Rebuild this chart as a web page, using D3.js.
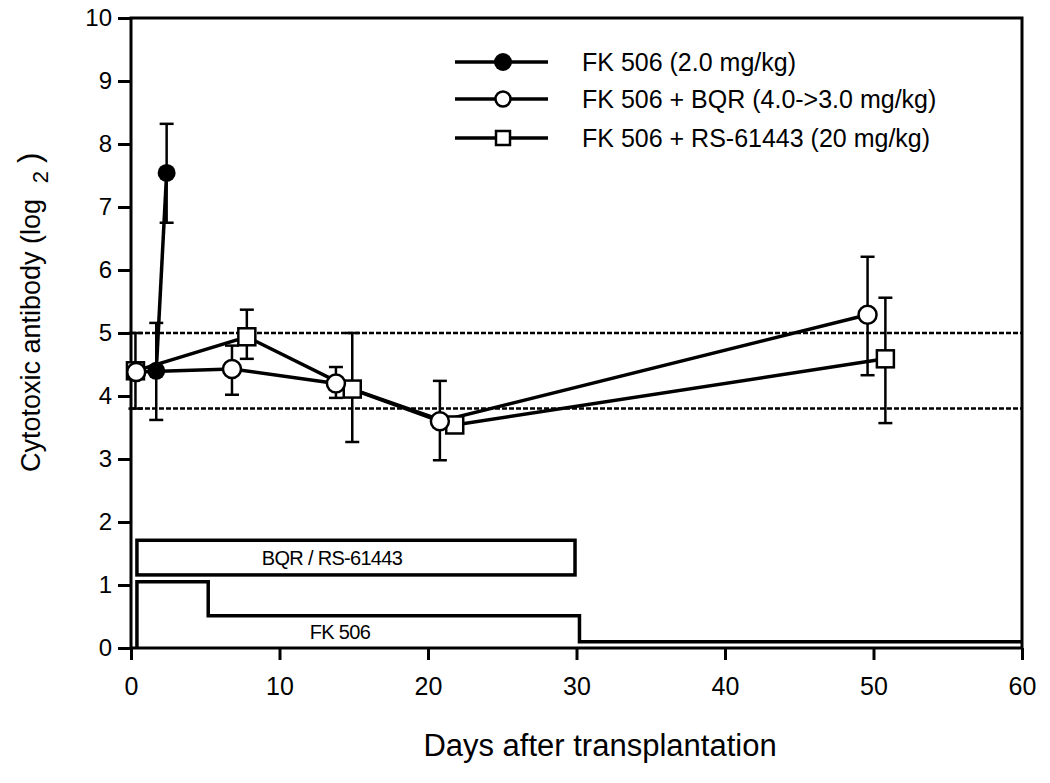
<!DOCTYPE html>
<html>
<head>
<meta charset="utf-8">
<script src="https://cdn.jsdelivr.net/npm/d3@7"></script>
<style>
  body { margin: 0; background: #fff; }
  svg { font-family: "Liberation Sans", Arial, sans-serif; }
  .tick text { fill: #000; }
</style>
</head>
<body>
<div id="chart"></div>
<script>
// series (day, mean, lower, upper)
const fkDays = [1.7, 2.4];
const fkValues = [4.4, 7.54];
const fkLow = [3.62, 6.75];
const fkHigh = [5.16, 8.32];

const bqrDays = [0.35, 6.8, 13.8, 20.8, 49.6];
const bqrValues = [4.38, 4.43, 4.2, 3.6, 5.29];
const bqrLow = [4.38, 4.02, 3.97, 2.98, 4.33];
const bqrHigh = [4.38, 4.8, 4.46, 4.24, 6.21];

const rsDays = [0.3, 7.8, 14.9, 21.8, 50.8];
const rsValues = [4.4, 4.94, 4.11, 3.54, 4.59];
const rsLow = [3.8, 4.59, 3.27, 3.54, 3.57];
const rsHigh = [5.0, 5.37, 5.0, 3.54, 5.56];

const refLevels = [5.0, 3.8];

// treatment schedule drawn under the curves
const comboStart = 0.4, comboEnd = 29.9, comboLow = 1.16, comboHigh = 1.71;
const fkStepDays = [0.4, 0.4, 5.2, 30.2, 60];
const fkStepLevels = [0, 1.05, 0.51, 0.1, 0.1];

const xTicks = [0, 10, 20, 30, 40, 50, 60];
const yTicks = d3.range(0, 11);

const legendLabels = ["FK 506 (2.0 mg/kg)", "FK 506 + BQR (4.0->3.0 mg/kg)", "FK 506 + RS-61443 (20 mg/kg)"];

const width = 1050, height = 783;

const x = d3.scaleLinear().domain([0, 60]).range([131, 1022]);
const y = d3.scaleLinear().domain([0, 10]).range([648, 18]);

const svg = d3.select("#chart").append("svg")
    .attr("width", width)
    .attr("height", height);

svg.append("rect").attr("width", width).attr("height", height).attr("fill", "#fff");

const zip = (days, vals, lo, hi) => days.map((d, i) => ({day: d, v: vals[i], lo: lo[i], hi: hi[i]}));
const fk = zip(fkDays, fkValues, fkLow, fkHigh);
const bqr = zip(bqrDays, bqrValues, bqrLow, bqrHigh);
const rs = zip(rsDays, rsValues, rsLow, rsHigh);

// axes
const yAxis = svg.append("g")
    .attr("transform", `translate(${x(0)},0)`)
    .call(d3.axisLeft(y).tickValues(yTicks).tickSize(13).tickPadding(6))
    .call(g => g.select(".domain").remove());
yAxis.selectAll(".tick line").attr("stroke", "#000").attr("stroke-width", 3);
yAxis.selectAll(".tick text").attr("font-size", 24);

const xAxis = svg.append("g")
    .attr("transform", `translate(0,${y(0)})`)
    .call(d3.axisBottom(x).tickValues(xTicks).tickSize(12).tickPadding(17))
    .call(g => g.select(".domain").remove());
xAxis.selectAll(".tick line").attr("stroke", "#000").attr("stroke-width", 3);
xAxis.selectAll(".tick text").attr("font-size", 25);

svg.append("rect")
    .attr("x", x(0))
    .attr("y", y(10))
    .attr("width", x(60) - x(0))
    .attr("height", y(0) - y(10))
    .attr("fill", "none")
    .attr("stroke", "#000")
    .attr("stroke-width", 3);

svg.append("text")
    .attr("x", 600)
    .attr("y", 756)
    .attr("text-anchor", "middle")
    .attr("font-size", 31)
    .text("Days after transplantation");

const yTitle = svg.append("text")
    .attr("transform", "translate(40,472) rotate(-90)")
    .attr("font-size", 27)
    .attr("text-anchor", "start");
yTitle.append("tspan").text("Cytotoxic antibody (log ");
yTitle.append("tspan").attr("dx", 8).attr("dy", 8).attr("font-size", 22).text("2");
yTitle.append("tspan").attr("dx", 8).attr("dy", -8).attr("font-size", 31).text(")");

// reference band
svg.append("g")
    .selectAll("line")
    .data(refLevels)
    .join("line")
    .attr("x1", x(0))
    .attr("x2", x(60))
    .attr("y1", d => y(d))
    .attr("y2", d => y(d))
    .attr("stroke", "#000")
    .attr("stroke-width", 2.5)
    .attr("stroke-dasharray", "5,2");

// treatment bars
svg.append("rect")
    .attr("x", x(comboStart))
    .attr("y", y(comboHigh))
    .attr("width", x(comboEnd) - x(comboStart))
    .attr("height", y(comboLow) - y(comboHigh))
    .attr("fill", "none")
    .attr("stroke", "#000")
    .attr("stroke-width", 3.5);

svg.append("text")
    .attr("x", (x(comboStart) + x(comboEnd)) / 2 - 24)
    .attr("y", (y(comboLow) + y(comboHigh)) / 2)
    .attr("dy", "0.35em")
    .attr("text-anchor", "middle")
    .attr("font-size", 20)
    .attr("letter-spacing", -0.7)
    .text("BQR / RS-61443");

const stepLine = d3.line()
    .x(d => x(d[0]))
    .y(d => y(d[1]))
    .curve(d3.curveStepAfter);

svg.append("path")
    .attr("d", stepLine(fkStepDays.map((d, i) => [d, fkStepLevels[i]])))
    .attr("fill", "none")
    .attr("stroke", "#000")
    .attr("stroke-width", 3.5);

svg.append("text")
    .attr("x", 340)
    .attr("y", 632)
    .attr("dy", "0.35em")
    .attr("text-anchor", "middle")
    .attr("font-size", 20)
    .attr("letter-spacing", -0.7)
    .text("FK 506");

// error bars
const drawErrors = (data, cls) => {
    const g = svg.append("g").attr("class", cls).attr("stroke", "#000").attr("stroke-width", 2.5);
    const withErr = data.filter(d => d.hi > d.lo);
    g.selectAll(".stem").data(withErr).join("line")
        .attr("class", "stem")
        .attr("x1", d => x(d.day)).attr("x2", d => x(d.day))
        .attr("y1", d => y(d.lo)).attr("y2", d => y(d.hi));
    g.selectAll(".cap-hi").data(withErr.filter(d => d.hi > d.v)).join("line")
        .attr("class", "cap-hi")
        .attr("x1", d => x(d.day) - 7).attr("x2", d => x(d.day) + 7)
        .attr("y1", d => y(d.hi)).attr("y2", d => y(d.hi));
    g.selectAll(".cap-lo").data(withErr.filter(d => d.lo < d.v)).join("line")
        .attr("class", "cap-lo")
        .attr("x1", d => x(d.day) - 7).attr("x2", d => x(d.day) + 7)
        .attr("y1", d => y(d.lo)).attr("y2", d => y(d.lo));
};
drawErrors(rs, "err-rs");
drawErrors(bqr, "err-bqr");
drawErrors(fk, "err-fk");

// series lines
const line = d3.line().x(d => x(d.day)).y(d => y(d.v));
[rs, bqr, fk].forEach(data => {
    svg.append("path")
        .attr("d", line(data))
        .attr("fill", "none")
        .attr("stroke", "#000")
        .attr("stroke-width", 3.5);
});

// markers
svg.append("g").selectAll("rect").data(rs).join("rect")
    .attr("x", d => x(d.day) - 8.5)
    .attr("y", d => y(d.v) - 8.5)
    .attr("width", 17).attr("height", 17)
    .attr("fill", "#fff").attr("stroke", "#000").attr("stroke-width", 2.5);

svg.append("g").selectAll("circle").data(bqr).join("circle")
    .attr("cx", d => x(d.day))
    .attr("cy", d => y(d.v))
    .attr("r", 9)
    .attr("fill", "#fff").attr("stroke", "#000").attr("stroke-width", 2.5);

svg.append("g").selectAll("circle").data(fk).join("circle")
    .attr("cx", d => x(d.day))
    .attr("cy", d => y(d.v))
    .attr("r", 9)
    .attr("fill", "#000");

// legend
const legendRowsY = [62, 99, 138];
const legend = svg.append("g");
legend.selectAll("line").data(legendLabels).join("line")
    .attr("x1", 455).attr("x2", 548)
    .attr("y1", (d, i) => legendRowsY[i]).attr("y2", (d, i) => legendRowsY[i])
    .attr("stroke", "#000").attr("stroke-width", 3.5);
legend.append("circle").attr("cx", 503).attr("cy", legendRowsY[0]).attr("r", 9).attr("fill", "#000");
legend.append("circle").attr("cx", 503).attr("cy", legendRowsY[1]).attr("r", 7.5)
    .attr("fill", "#fff").attr("stroke", "#000").attr("stroke-width", 2.5);
legend.append("rect").attr("x", 496).attr("y", legendRowsY[2] - 7).attr("width", 14).attr("height", 14)
    .attr("fill", "#fff").attr("stroke", "#000").attr("stroke-width", 2.5);
legend.selectAll("text").data(legendLabels).join("text")
    .attr("x", 582)
    .attr("y", (d, i) => legendRowsY[i])
    .attr("dy", "0.35em")
    .attr("font-size", 25)
    .text(d => d);
</script>
</body>
</html>
